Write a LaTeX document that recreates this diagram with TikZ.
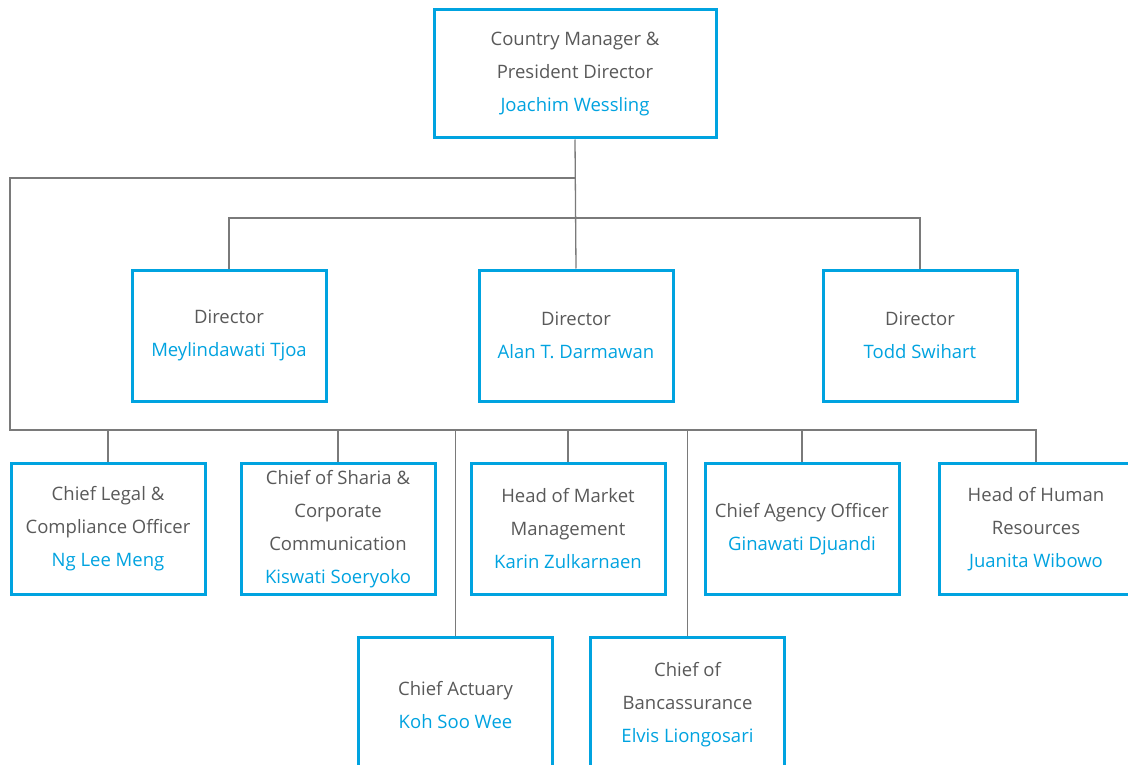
\documentclass[tikz,border=0pt]{standalone}
\usepackage{fontspec}
\setmainfont{Open Sans}
\usepackage{xcolor}
\usepackage{tikz}
\usetikzlibrary{positioning,calc}
\definecolor{ink}{HTML}{595959}
\definecolor{brand}{HTML}{00A3E0}
\definecolor{wire}{HTML}{7A7A7A}

\begin{document}
\begin{tikzpicture}[
  x=1pt, y=-1pt,
  box/.style={draw=brand, line width=3pt, fill=white, minimum width=194pt, minimum height=131pt, align=center, text=ink, font=\fontsize{18.5}{33}\selectfont, inner sep=0pt},
  link/.style={draw=wire, line width=1.3pt}
]
\clip (0,0) rectangle (1128,765);

% Top
\node[box, minimum width=282pt, minimum height=128pt] (ceo) at (575,74) {Country Manager \&\\President Director\\\textcolor{brand}{Joachim Wessling}};

% Directors
\node[box] (dirl) at (229,335.5) {Director\\\textcolor{brand}{Meylindawati Tjoa}};
\node[box] (dirc) at (576,335.5) {Director\\\textcolor{brand}{Alan T. Darmawan}};
\node[box] (dirr) at (920,335.5) {Director\\\textcolor{brand}{Todd Swihart}};

% Chiefs and heads
\node[box] (legal) at (108,529) {Chief Legal \&\\Compliance Officer\\\textcolor{brand}{Ng Lee Meng}};
\node[box] (sharia) at (338,529) {Chief of Sharia \&\\Corporate\\Communication\\\textcolor{brand}{Kiswati Soeryoko}};
\node[box] (market) at (568,529) {Head of Market\\Management\\\textcolor{brand}{Karin Zulkarnaen}};
\node[box] (agency) at (802,529) {Chief Agency Officer\\\textcolor{brand}{Ginawati Djuandi}};
\node[box] (hr) at (1036,529) {Head of Human\\Resources\\\textcolor{brand}{Juanita Wibowo}};

% Lower row
\node[box, minimum height=136pt] (actuary) at (455.5,705) {Chief Actuary\\\textcolor{brand}{Koh Soo Wee}};
\node[box, minimum height=136pt] (banca) at (687.5,705) {Chief of\\Bancassurance\\\textcolor{brand}{Elvis Liongosari}};

\coordinate (hub) at (575,178);
\coordinate (busd) at (575,218);
\coordinate (busc) at (10,430);

\draw[link] (ceo.south) -- (dirc.north);
\draw[link] (dirl.north) |- (busd) -| (dirr.north);
\draw[link] (hub) -| (busc) -| (hr.north);
\draw[link] (legal.north) -- (legal.north |- busc);
\draw[link] (sharia.north) -- (sharia.north |- busc);
\draw[link] (market.north) -- (market.north |- busc);
\draw[link] (agency.north) -- (agency.north |- busc);
\draw[link] (actuary.north) -- (actuary.north |- busc);
\draw[link] (banca.north) -- (banca.north |- busc);
\end{tikzpicture}
\end{document}
